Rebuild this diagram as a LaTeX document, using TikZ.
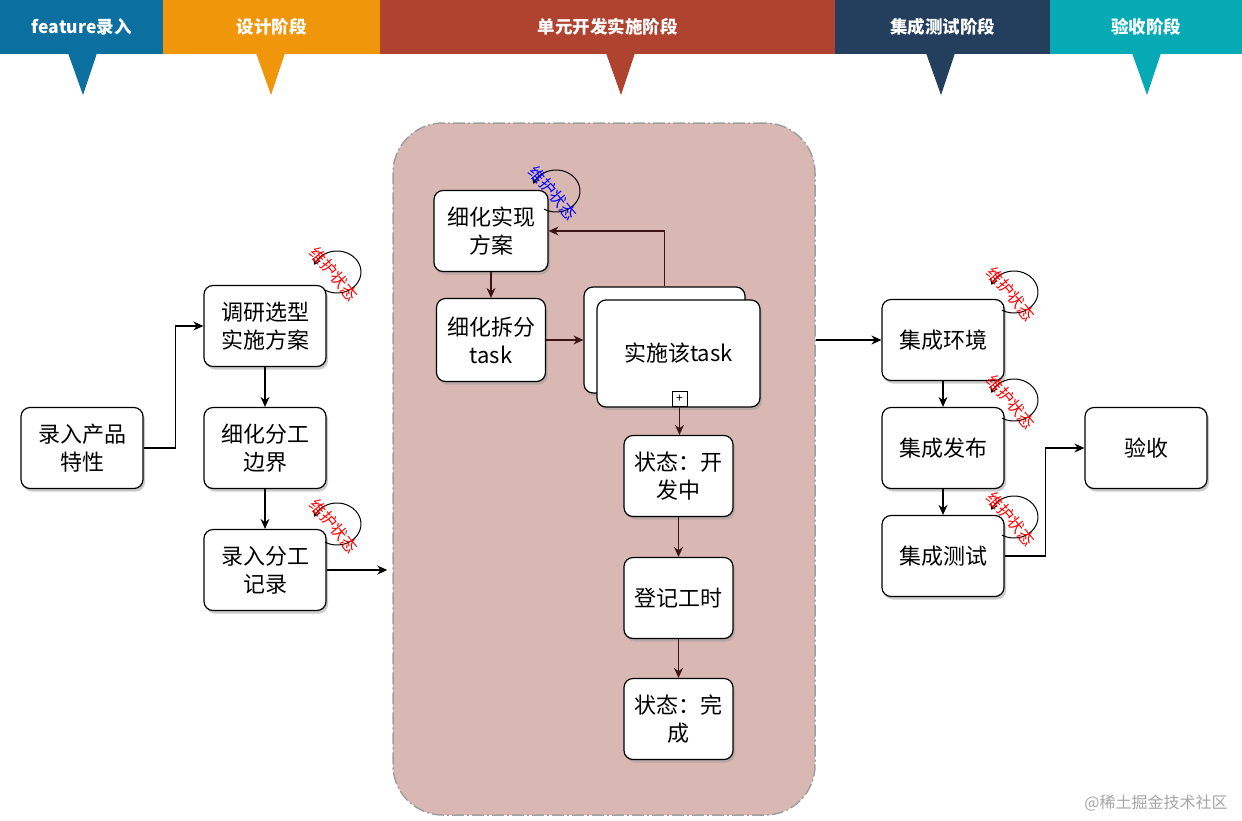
\documentclass[tikz,border=0pt]{standalone}
\usepackage{fontspec}
\setmainfont{Noto Sans CJK SC}
\usetikzlibrary{arrows.meta,shadows,calc}
\definecolor{cBlue}{RGB}{11,112,160}
\definecolor{cOrange}{RGB}{240,150,10}
\definecolor{cRed}{RGB}{176,66,48}
\definecolor{cNavy}{RGB}{36,63,94}
\definecolor{cTeal}{RGB}{6,170,180}
\definecolor{cCont}{RGB}{217,183,178}
\definecolor{cEdgeIn}{RGB}{60,20,20}
\newcommand{\mystatus}[3]{%
  \draw[line width=1pt, -{Straight Barb[length=5pt,width=7pt]}] ($(#2)+(120:24 and 21)$) arc[start angle=120, end angle=-160, x radius=24, y radius=21];
  \node[rotate=-50, text=#3, font=\fontsize{16}{16}\selectfont, inner sep=0pt] (#1) at ($(#2)+(-3,2)$) {维护状态};
}
\begin{document}
\begin{tikzpicture}[x=1pt,y=-1pt,
  hdr/.style={anchor=north west, minimum height=54pt, inner sep=0pt, text=white, font=\bfseries\fontsize{17.5}{20}\selectfont},
  box/.style={draw=black, line width=1.2pt, fill=white, rounded corners=9pt, minimum width=122pt, minimum height=81pt, align=center, inner sep=2pt, font=\fontsize{22}{28}\selectfont, drop shadow={shadow xshift=2pt, shadow yshift=-3pt, fill=black!40, opacity=0.5}},
  sbox/.style={box, minimum width=110pt},
  arr/.style={line width=1.2pt, -{Stealth[length=10pt,width=9pt]}},
  arrin/.style={arr, draw=cEdgeIn, color=cEdgeIn},
  cont/.style={draw=gray!75, line width=1.5pt, dash pattern=on 12pt off 3pt on 2pt off 3pt, fill=cCont, rounded corners=50pt, minimum width=422pt, minimum height=692pt, inner sep=0pt}
]
\useasboundingbox (0,0) rectangle (1242,820);
\fill[white] (0,0) rectangle (1242,820);

% header
\node[hdr, fill=cBlue, minimum width=163pt] (h1) at (0,0) {feature录入};
\node[hdr, fill=cOrange, minimum width=217pt] (h2) at (163,0) {设计阶段};
\node[hdr, fill=cRed, minimum width=455pt] (h3) at (380,0) {单元开发实施阶段};
\node[hdr, fill=cNavy, minimum width=215pt] (h4) at (835,0) {集成测试阶段};
\node[hdr, fill=cTeal, minimum width=192pt] (h5) at (1050,0) {验收阶段};
\fill[cBlue] (68,53) -- (97,53) -- (83,95) -- cycle;
\fill[cOrange] (256,53) -- (285,53) -- (271,95) -- cycle;
\fill[cRed] (606,53) -- (635,53) -- (621,95) -- cycle;
\fill[cNavy] (926,53) -- (955,53) -- (941,95) -- cycle;
\fill[cTeal] (1132,53) -- (1161,53) -- (1147,95) -- cycle;

% container
\node[cont] (cont) at (604,469) {};

% left nodes
\node[box] (prod) at (82,448) {录入产品\\特性};
\node[box] (res) at (265,326) {调研选型\\实施方案};
\node[box] (div) at (265,448) {细化分工\\边界};
\node[box] (rec) at (265,570) {录入分工\\记录};

% inner nodes
\node[box, minimum width=114pt] (impl) at (491,231) {细化实现\\方案};
\node[box, minimum width=109pt, minimum height=83pt] (split) at (491,340) {细化拆分\\task};
\node[box, minimum width=161pt, minimum height=106pt] (tb) at (664.5,340) {};
\node[box, minimum width=163pt, minimum height=107pt] (task) at (678.5,353.5) {实施该task};
\node[draw=black, line width=0.8pt, fill=white, minimum size=15pt, inner sep=0pt, font=\fontsize{12}{12}\selectfont] (plus) at (679.5,398.5) {+};
\node[sbox, minimum width=109pt] (dev) at (678.5,476) {状态：开\\发中};
\node[sbox, minimum width=109pt] (hour) at (678.5,598) {登记工时};
\node[sbox, minimum width=109pt] (done) at (678.5,719) {状态：完\\成};

% right nodes
\node[box] (env) at (943,340) {集成环境};
\node[box] (pub) at (943,448) {集成发布};
\node[box] (test) at (943,556) {集成测试};
\node[box] (acc) at (1146,448) {验收};

% edges
\draw[arr] (prod.east) -- ++(32,0) |- (res.west);
\draw[arr] (res.south) -- (div.north);
\draw[arr] (div.south) -- (rec.north);
\draw[arr, shorten >=5pt] (rec.east) -- (rec.east -| cont.west);
\draw[arrin] (impl.south) -- (split.north);
\draw[arrin] (split.east) -- (split.east -| tb.west);
\draw[arrin] (tb.north) |- (impl.east);
\draw[arrin] (plus.south) -- (plus.south |- dev.north);
\draw[arrin] (dev.south) -- (hour.north);
\draw[arrin] (hour.south) -- (done.north);
\draw[arr] (cont.east |- env.west) -- (env.west);
\draw[arr] (env.south) -- (pub.north);
\draw[arr] (pub.south) -- (test.north);
\draw[arr] (test.east) -- ++(41,0) |- (acc.west);

% status loops
\coordinate (s1) at (337,272);
\coordinate (s2) at (556,191);
\coordinate (s3) at (337,524);
\coordinate (s4) at (1014,292);
\coordinate (s5) at (1014,400);
\coordinate (s6) at (1014,517);
\mystatus{m1}{s1}{red}
\mystatus{m2}{s2}{blue}
\mystatus{m3}{s3}{red}
\mystatus{m4}{s4}{red}
\mystatus{m5}{s5}{red}
\mystatus{m6}{s6}{red}

% watermark
\node[text=gray!70, font=\fontsize{16}{16}\selectfont, inner sep=0pt] (wm) at (1156,803) {@稀土掘金技术社区};
\end{tikzpicture}
\end{document}
